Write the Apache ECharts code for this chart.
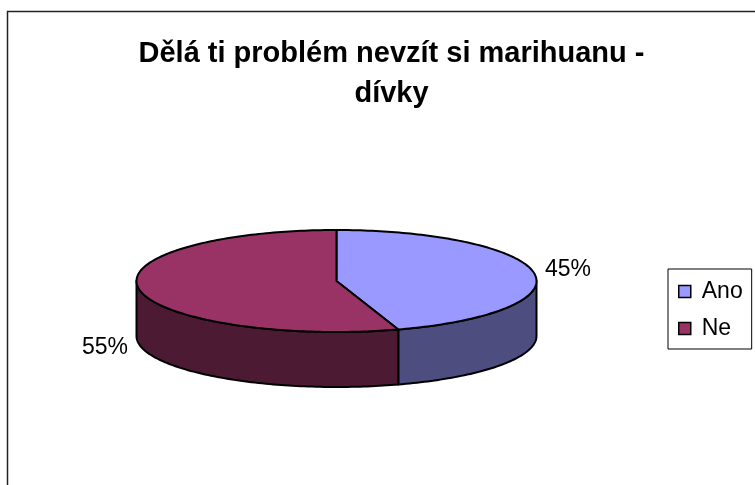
<!DOCTYPE html>
<html>
<head>
<meta charset="utf-8">
<style>
  html, body { margin: 0; padding: 0; background: #fff; }
  #chart { width: 755px; height: 485px; }
</style>
<script src="https://cdn.jsdelivr.net/npm/echarts@6/dist/echarts.min.js"></script>
</head>
<body>
<div id="chart"></div>
<script>
// Survey answers (girls)
const categories = ['Ano', 'Ne'];
const values = [45, 55];
const topColors = ['#9999FF', '#993366'];
const sideColors = ['#4D4D80', '#4D1A33'];
const titleText = 'Dělá ti problém nevzít si marihuanu -\ndívky';

// Tilted pie geometry
const CX = 336.5, CY = 281, RX = 200, RY = 51, DEPTH = 55;
const FONT = '"Liberation Sans", Arial, sans-serif';

const total = values.reduce((a, b) => a + b, 0);
const slices = [];
let acc = -Math.PI / 2;
values.forEach((v) => {
  const span = v / total * Math.PI * 2;
  slices.push({ start: acc, end: acc + span, pct: Math.round(v / total * 100) });
  acc += span;
});

function pt(a, dy) {
  return [CX + RX * Math.cos(a), CY + RY * Math.sin(a) + (dy || 0)];
}
function arc(a0, a1, dy) {
  const n = Math.max(4, Math.ceil(Math.abs(a1 - a0) / 0.02));
  const out = [];
  for (let k = 0; k <= n; k++) out.push(pt(a0 + (a1 - a0) * k / n, dy));
  return out;
}

function renderSlice(params, api) {
  const i = params.seriesIndex;
  const s = slices[i];
  const children = [];
  // visible outer wall: front half of the ellipse (0..PI)
  const w0 = Math.max(s.start, 0), w1 = Math.min(s.end, Math.PI);
  if (w1 > w0) {
    const pts = arc(w0, w1, 0).concat(arc(w1, w0, DEPTH));
    children.push({
      type: 'polygon', z2: 1,
      shape: { points: pts },
      style: { fill: sideColors[i], stroke: '#000', lineWidth: 2, lineJoin: 'round' }
    });
  }
  // top face
  const top = [[CX, CY]].concat(arc(s.start, s.end, 0));
  children.push({
    type: 'polygon', z2: 2,
    shape: { points: top },
    style: { fill: topColors[i], stroke: '#000', lineWidth: 2, lineJoin: 'round' }
  });
  // percentage label outside the slice
  const mid = (s.start + s.end) / 2;
  const c = Math.cos(mid), sn = Math.sin(mid);
  const edge = pt(mid, sn > 0 ? DEPTH + 4 : -3);
  children.push({
    type: 'text', z2: 3,
    x: edge[0] + (c >= 0 ? 11 : -11), y: edge[1],
    style: {
      text: s.pct + '%', fill: '#000', font: '23px ' + FONT,
      align: c >= 0 ? 'left' : 'right', verticalAlign: 'middle'
    }
  });
  return { type: 'group', children: children };
}

const chart = echarts.init(document.getElementById('chart'), null, { renderer: 'canvas' });
chart.setOption({
  animation: false,
  backgroundColor: '#fff',
  title: {
    text: titleText,
    left: 386.5, top: 29, textAlign: 'center',
    textStyle: { fontFamily: FONT, fontSize: 29, fontWeight: 'bold', color: '#000', lineHeight: 40 }
  },
  legend: {
    orient: 'vertical',
    left: 668, top: 269,
    padding: [11, 9, 9, 10],
    itemWidth: 12, itemHeight: 12, itemGap: 14,
    borderColor: '#000', borderWidth: 1,
    icon: 'rect',
    itemStyle: { borderColor: '#000', borderWidth: 1.5 },
    textStyle: { fontFamily: FONT, fontSize: 23, color: '#000', padding: [0, 0, 0, 6] },
    data: categories
  },
  graphic: [{
    type: 'rect', z: -1,
    shape: { x: 7.5, y: 11.5, width: 800, height: 500 },
    style: { fill: 'none', stroke: '#222', lineWidth: 1.5 }
  }],
  series: categories.map((name, i) => ({
    type: 'custom',
    name: name,
    coordinateSystem: 'none',
    itemStyle: { color: topColors[i] },
    renderItem: renderSlice,
    data: [values[i]]
  }))
});
</script>
</body>
</html>
